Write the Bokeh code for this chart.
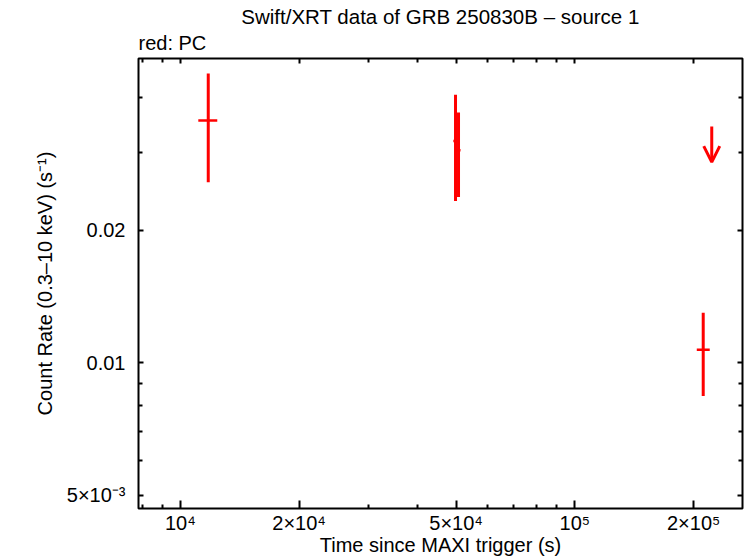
from bokeh.plotting import figure
from bokeh.models import LogAxis, FixedTicker, Title, Arrow, OpenHead, ColumnDataSource, Range1d
from bokeh.embed import file_html
from bokeh.resources import INLINE

# ---- data ----
time = [11770, 49830, 50710, 211500]
time_lo = [11106, 49200, 50200, 203700]
time_hi = [12406, 50300, 51300, 219700]
rate = [0.0355, 0.0319, 0.0304, 0.01071]
rate_lo = [0.0257, 0.0233, 0.0238, 0.00841]
rate_hi = [0.0454, 0.0406, 0.0370, 0.0130]

ul_time = [222300]
ul_rate = [0.0344]

x_major = [10000, 20000, 50000, 100000, 200000]
x_labels = ["10\u2074", "2\u00d710\u2074", "5\u00d710\u2074", "10\u2075", "2\u00d710\u2075"]
x_minor = [8000, 9000, 30000, 40000, 60000, 70000, 80000, 90000]
y_major = [0.005, 0.01, 0.02]
y_labels = ["5\u00d710\u207b\u00b3", "0.01", "0.02"]
y_minor = [0.006, 0.007, 0.008, 0.009, 0.03, 0.04]

FONT = "Liberation Sans"
RED = "#ff0000"

p = figure(width=746, height=558, x_axis_type="log", y_axis_type="log",
           x_range=Range1d(7834, 266000), y_range=Range1d(0.00467, 0.0491),
           output_backend="svg", toolbar_location=None, title=None,
           min_border_left=138, min_border_right=4, min_border_top=58, min_border_bottom=50)
p.background_fill_color = "white"
p.border_fill_color = "white"
p.outline_line_color = "black"
p.outline_line_width = 2
p.xgrid.visible = False
p.ygrid.visible = False

xt = FixedTicker(ticks=x_major, minor_ticks=x_minor)
yt = FixedTicker(ticks=y_major, minor_ticks=y_minor)

def style_axis(ax, major_in, minor_in):
    ax.axis_line_color = None
    ax.major_tick_in = major_in
    ax.major_tick_out = 0
    ax.minor_tick_in = minor_in
    ax.minor_tick_out = 0
    ax.major_tick_line_width = 2
    ax.minor_tick_line_width = 2
    ax.major_tick_line_color = "black"
    ax.minor_tick_line_color = "black"
    ax.major_label_text_font = FONT
    ax.major_label_text_font_size = "20px"
    ax.major_label_text_color = "black"
    ax.axis_label_text_font = FONT
    ax.axis_label_text_font_size = "20px"
    ax.axis_label_text_font_style = "normal"
    ax.axis_label_text_color = "black"

xa = p.xaxis[0]
xa.ticker = xt
xa.major_label_overrides = dict(zip(x_major, x_labels))
xa.axis_label = "Time since MAXI trigger (s)"
style_axis(xa, 8, 4)
xa.major_label_standoff = 3
xa.axis_label_standoff = -3

ya = p.yaxis[0]
ya.ticker = yt
ya.major_label_overrides = dict(zip(y_major, y_labels))
ya.axis_label = "Count Rate (0.3\u201310 keV) (s\u207b\u00b9)"
style_axis(ya, 5, 4)
ya.major_label_standoff = 13
ya.axis_label_standoff = 8

top = LogAxis(ticker=xt)
style_axis(top, 5, 4)
top.major_label_overrides = {v: "" for v in x_major}
top.major_label_text_font_size = "1px"
top.major_label_standoff = 0
p.add_layout(top, "above")

right = LogAxis(ticker=yt)
style_axis(right, 5, 4)
right.major_label_overrides = {v: "" for v in y_major}
right.major_label_text_font_size = "1px"
right.major_label_standoff = 0
p.add_layout(right, "right")

p.add_layout(Title(text="red: PC", align="left", text_font=FONT, text_font_size="20px",
                   text_font_style="normal", text_color="black", standoff=9), "above")
p.add_layout(Title(text="Swift/XRT data of GRB 250830B \u2013 source 1", align="center",
                   text_font=FONT, text_font_size="20.5px", text_font_style="normal",
                   text_color="black", standoff=-4), "above")

src = ColumnDataSource(dict(t=time, tlo=time_lo, thi=time_hi, r=rate, rlo=rate_lo, rhi=rate_hi))
p.segment(x0="t", y0="rlo", x1="t", y1="rhi", source=src, line_color=RED, line_width=3)
p.segment(x0="tlo", y0="r", x1="thi", y1="r", source=src, line_color=RED, line_width=2.5)

ARROW_RATIO = 0.83
for t, u in zip(ul_time, ul_rate):
    p.add_layout(Arrow(x_start=t, y_start=u, x_end=t, y_end=u * ARROW_RATIO,
                       line_color=RED, line_width=3,
                       end=OpenHead(size=16, line_color=RED, line_width=3)))

open("out.html", "w").write(file_html(p, INLINE))
